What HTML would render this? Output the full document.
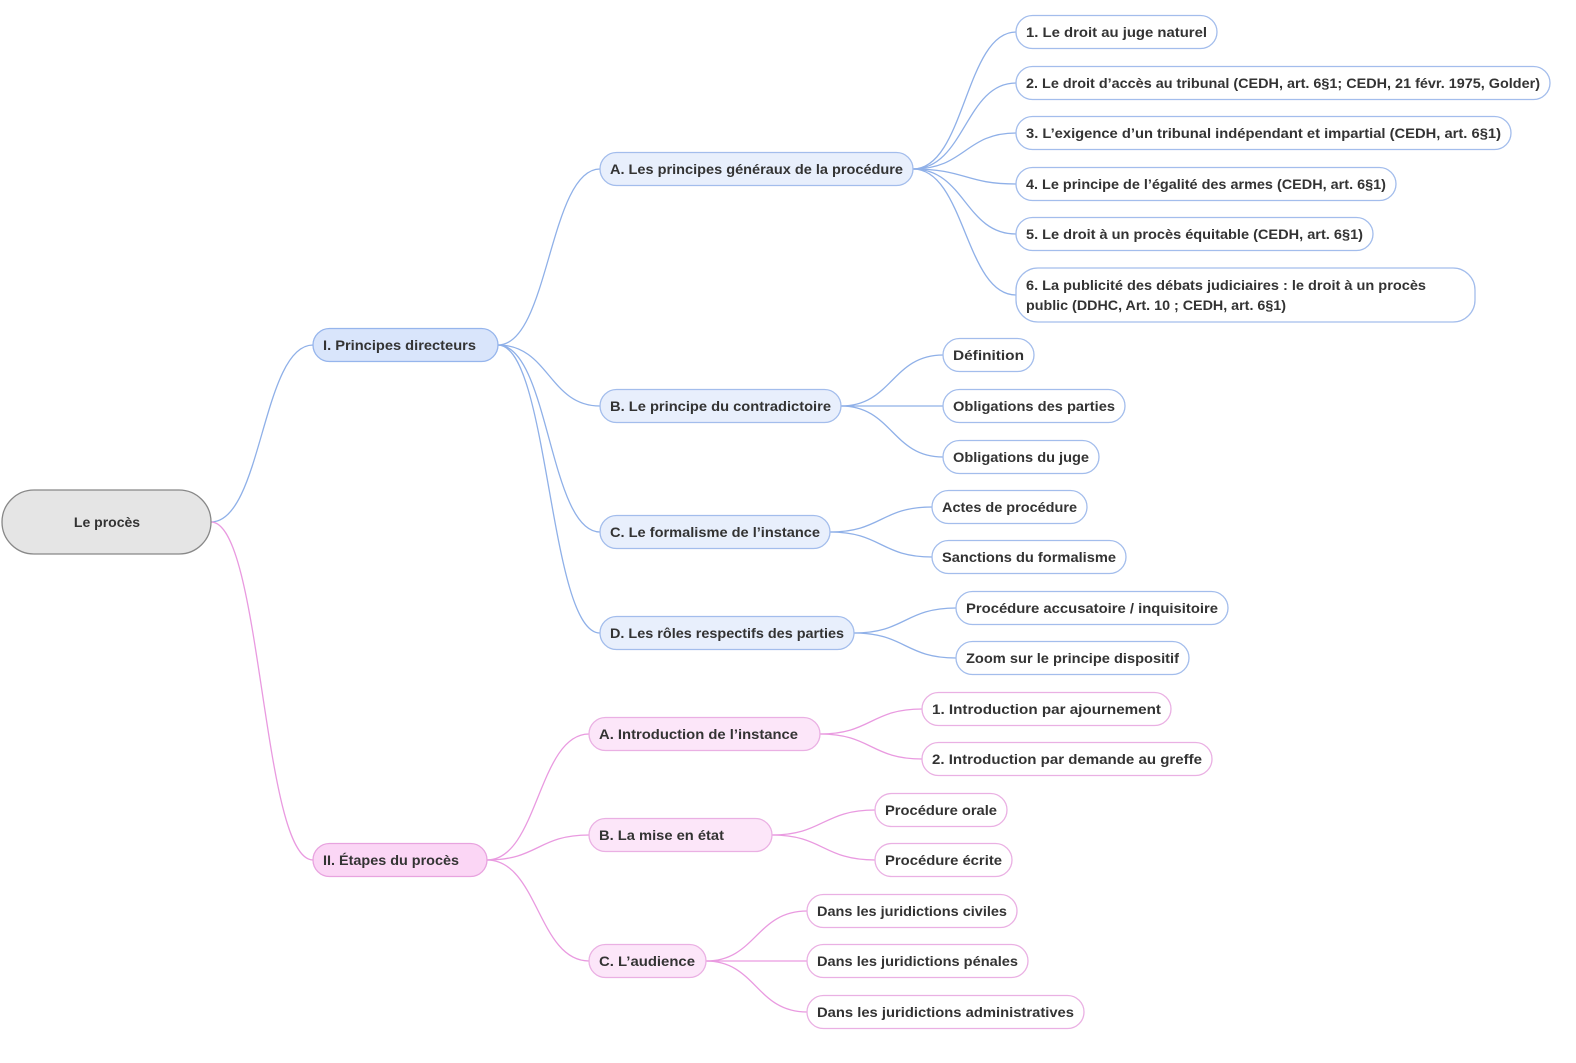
<!DOCTYPE html>
<html><head><meta charset="utf-8"><style>
html,body{margin:0;padding:0;background:#fff;}
svg{display:block;}
text{font-family:"Liberation Sans",sans-serif;font-weight:bold;font-size:14px;fill:#333;}
.b{stroke:#8fb0e8;fill:none;stroke-width:1.3}
.p{stroke:#e99ae0;fill:none;stroke-width:1.3}
.bl1{fill:#d9e5fb;stroke:#96b5ec;stroke-width:1.3}
.bl2{fill:#e8effc;stroke:#a3bdec;stroke-width:1.3}
.bl3{fill:#fff;stroke:#a3bdec;stroke-width:1.3}
.pl1{fill:#fbd6f5;stroke:#e8a3df;stroke-width:1.3}
.pl2{fill:#fce6f9;stroke:#eab0e3;stroke-width:1.3}
.pl3{fill:#fff;stroke:#eab0e3;stroke-width:1.3}
</style></head><body>
<svg width="1576" height="1063" viewBox="0 0 1576 1063" xmlns="http://www.w3.org/2000/svg">
<!-- connectors -->
<path class="b" d="M211,522 C262,522 262,345 313,345"/>
<path class="p" d="M211,522 C262,522 262,860 313,860"/>
<path class="b" d="M498,345 C549,345 549,169 600,169"/>
<path class="b" d="M498,345 C549,345 549,406 600,406"/>
<path class="b" d="M498,345 C549,345 549,532 600,532"/>
<path class="b" d="M498,345 C549,345 549,633 600,633"/>
<path class="b" d="M913,169 C965,169 965,32 1016,32"/>
<path class="b" d="M913,169 C965,169 965,83 1016,83"/>
<path class="b" d="M913,169 C965,169 965,133 1016,133"/>
<path class="b" d="M913,169 C965,169 965,184 1016,184"/>
<path class="b" d="M913,169 C965,169 965,234 1016,234"/>
<path class="b" d="M913,169 C965,169 965,295 1016,295"/>
<path class="b" d="M841,406 C892,406 892,355 943,355"/>
<path class="b" d="M841,406 L943,406"/>
<path class="b" d="M841,406 C892,406 892,457 943,457"/>
<path class="b" d="M830,532 C881,532 881,507 932,507"/>
<path class="b" d="M830,532 C881,532 881,557 932,557"/>
<path class="b" d="M854,633 C905,633 905,608 956,608"/>
<path class="b" d="M854,633 C905,633 905,658 956,658"/>
<path class="p" d="M487,860 C538,860 538,734 589,734"/>
<path class="p" d="M487,860 C538,860 538,835 589,835"/>
<path class="p" d="M487,860 C538,860 538,961 589,961"/>
<path class="p" d="M820,734 C871,734 871,709 922,709"/>
<path class="p" d="M820,734 C871,734 871,759 922,759"/>
<path class="p" d="M772,835 C823,835 823,810 875,810"/>
<path class="p" d="M772,835 C823,835 823,860 875,860"/>
<path class="p" d="M706,961 C756,961 756,911 807,911"/>
<path class="p" d="M706,961 L807,961"/>
<path class="p" d="M706,961 C756,961 756,1012 807,1012"/>

<!-- root -->
<rect x="2" y="490" width="209" height="64" rx="32" fill="#e5e5e5" stroke="#888" stroke-width="1.3"/>
<text x="107" y="527" text-anchor="middle">Le procès</text>

<!-- level 1 -->
<rect class="bl1" x="313" y="328.5" width="185" height="33" rx="16.5"/>
<text x="323" y="350" textLength="153" lengthAdjust="spacingAndGlyphs">I. Principes directeurs</text>
<rect class="pl1" x="313" y="843.5" width="174" height="33" rx="16.5"/>
<text x="323" y="865" textLength="136" lengthAdjust="spacingAndGlyphs">II. Étapes du procès</text>

<!-- level 2 blue -->
<rect class="bl2" x="600" y="152.5" width="313" height="33" rx="16.5"/>
<text x="610" y="174" textLength="293" lengthAdjust="spacingAndGlyphs">A. Les principes généraux de la procédure</text>
<rect class="bl2" x="600" y="389.5" width="241" height="33" rx="16.5"/>
<text x="610" y="411" textLength="221" lengthAdjust="spacingAndGlyphs">B. Le principe du contradictoire</text>
<rect class="bl2" x="600" y="515.5" width="230" height="33" rx="16.5"/>
<text x="610" y="537" textLength="210" lengthAdjust="spacingAndGlyphs">C. Le formalisme de l’instance</text>
<rect class="bl2" x="600" y="616.5" width="254" height="33" rx="16.5"/>
<text x="610" y="638" textLength="234" lengthAdjust="spacingAndGlyphs">D. Les rôles respectifs des parties</text>

<!-- leaves A -->
<rect class="bl3" x="1016" y="15.5" width="201" height="33" rx="16.5"/>
<text x="1026" y="37" textLength="181" lengthAdjust="spacingAndGlyphs">1. Le droit au juge naturel</text>
<rect class="bl3" x="1016" y="66.5" width="534" height="33" rx="16.5"/>
<text x="1026" y="88" textLength="514" lengthAdjust="spacingAndGlyphs">2. Le droit d’accès au tribunal (CEDH, art. 6§1; CEDH, 21 févr. 1975, Golder)</text>
<rect class="bl3" x="1016" y="116.5" width="495" height="33" rx="16.5"/>
<text x="1026" y="138" textLength="475" lengthAdjust="spacingAndGlyphs">3. L’exigence d’un tribunal indépendant et impartial (CEDH, art. 6§1)</text>
<rect class="bl3" x="1016" y="167.5" width="380" height="33" rx="16.5"/>
<text x="1026" y="189" textLength="360" lengthAdjust="spacingAndGlyphs">4. Le principe de l’égalité des armes (CEDH, art. 6§1)</text>
<rect class="bl3" x="1016" y="217.5" width="357" height="33" rx="16.5"/>
<text x="1026" y="239" textLength="337" lengthAdjust="spacingAndGlyphs">5. Le droit à un procès équitable (CEDH, art. 6§1)</text>
<rect class="bl3" x="1016" y="268" width="459" height="54" rx="22"/>
<text x="1026" y="290" textLength="400" lengthAdjust="spacingAndGlyphs">6. La publicité des débats judiciaires : le droit à un procès</text>
<text x="1026" y="310" textLength="260" lengthAdjust="spacingAndGlyphs">public (DDHC, Art. 10 ; CEDH, art. 6§1)</text>

<!-- leaves B -->
<rect class="bl3" x="943" y="338.5" width="91" height="33" rx="16.5"/>
<text x="953" y="360" textLength="71" lengthAdjust="spacingAndGlyphs">Définition</text>
<rect class="bl3" x="943" y="389.5" width="182" height="33" rx="16.5"/>
<text x="953" y="411" textLength="162" lengthAdjust="spacingAndGlyphs">Obligations des parties</text>
<rect class="bl3" x="943" y="440.5" width="156" height="33" rx="16.5"/>
<text x="953" y="462" textLength="136" lengthAdjust="spacingAndGlyphs">Obligations du juge</text>
<!-- leaves C -->
<rect class="bl3" x="932" y="490.5" width="155" height="33" rx="16.5"/>
<text x="942" y="512" textLength="135" lengthAdjust="spacingAndGlyphs">Actes de procédure</text>
<rect class="bl3" x="932" y="540.5" width="194" height="33" rx="16.5"/>
<text x="942" y="562" textLength="174" lengthAdjust="spacingAndGlyphs">Sanctions du formalisme</text>
<!-- leaves D -->
<rect class="bl3" x="956" y="591.5" width="272" height="33" rx="16.5"/>
<text x="966" y="613" textLength="252" lengthAdjust="spacingAndGlyphs">Procédure accusatoire / inquisitoire</text>
<rect class="bl3" x="956" y="641.5" width="233" height="33" rx="16.5"/>
<text x="966" y="663" textLength="213" lengthAdjust="spacingAndGlyphs">Zoom sur le principe dispositif</text>

<!-- level 2 pink -->
<rect class="pl2" x="589" y="717.5" width="231" height="33" rx="16.5"/>
<text x="599" y="739" textLength="199" lengthAdjust="spacingAndGlyphs">A. Introduction de l’instance</text>
<rect class="pl2" x="589" y="818.5" width="183" height="33" rx="16.5"/>
<text x="599" y="840" textLength="125" lengthAdjust="spacingAndGlyphs">B. La mise en état</text>
<rect class="pl2" x="589" y="944.5" width="117" height="33" rx="16.5"/>
<text x="599" y="966" textLength="96" lengthAdjust="spacingAndGlyphs">C.  L’audience</text>

<!-- pink leaves -->
<rect class="pl3" x="922" y="692.5" width="249" height="33" rx="16.5"/>
<text x="932" y="714" textLength="229" lengthAdjust="spacingAndGlyphs">1. Introduction par ajournement</text>
<rect class="pl3" x="922" y="742.5" width="290" height="33" rx="16.5"/>
<text x="932" y="764" textLength="270" lengthAdjust="spacingAndGlyphs">2. Introduction par demande au greffe</text>
<rect class="pl3" x="875" y="793.5" width="132" height="33" rx="16.5"/>
<text x="885" y="815" textLength="112" lengthAdjust="spacingAndGlyphs">Procédure orale</text>
<rect class="pl3" x="875" y="843.5" width="137" height="33" rx="16.5"/>
<text x="885" y="865" textLength="117" lengthAdjust="spacingAndGlyphs">Procédure écrite</text>
<rect class="pl3" x="807" y="894.5" width="210" height="33" rx="16.5"/>
<text x="817" y="916" textLength="190" lengthAdjust="spacingAndGlyphs">Dans les juridictions civiles</text>
<rect class="pl3" x="807" y="944.5" width="221" height="33" rx="16.5"/>
<text x="817" y="966" textLength="201" lengthAdjust="spacingAndGlyphs">Dans les juridictions pénales</text>
<rect class="pl3" x="807" y="995.5" width="277" height="33" rx="16.5"/>
<text x="817" y="1017" textLength="257" lengthAdjust="spacingAndGlyphs">Dans les juridictions administratives</text>
</svg>
</body></html>
